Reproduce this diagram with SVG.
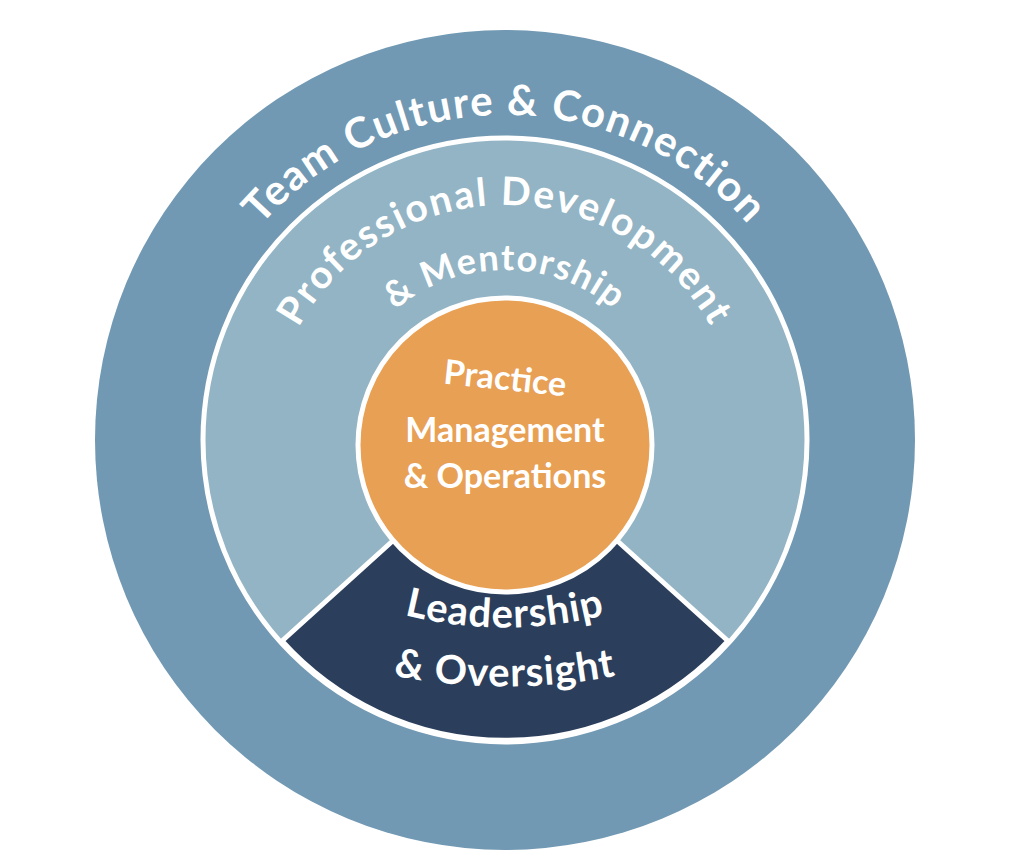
<svg xmlns="http://www.w3.org/2000/svg" width="1024" height="860" viewBox="0 0 1024 860">
<style>
.t{font-family:Lato,"Open Sans",sans-serif;font-weight:bold;fill:#fff}
</style>
<defs>
<path id="a1" d="M 180,440 A 325 325 0 0 1 830,440"/>
<path id="a2" d="M 270,440 A 235 235 0 0 1 740,440"/>
<path id="a3" d="M 335,440 A 170 170 0 0 1 675,440"/>
<path id="a4" d="M 370,605 Q 505,650 640,605"/>
<path id="a5" d="M 360,668 Q 505,705 650,668"/>
</defs>
<rect width="1024" height="860" fill="#fff"/>
<g id="outer"><circle cx="505" cy="440" r="410" fill="#7199b3"/>
<text class="t" font-size="42" letter-spacing="1.5"><textPath href="#a1" startOffset="50%" text-anchor="middle">Team Culture &amp; Connection</textPath></text></g>
<g id="middle"><circle cx="505" cy="440" r="302" fill="#93b4c4" stroke="#fff" stroke-width="5"/>
<text class="t" font-size="39" letter-spacing="2"><textPath href="#a2" startOffset="50%" text-anchor="middle">Professional Development</textPath></text>
<text class="t" font-size="36" letter-spacing="1.5"><textPath href="#a3" startOffset="50%" text-anchor="middle">&amp; Mentorship</textPath></text></g>
<g id="leadership"><path d="M 728,641 A 300 300 0 0 1 282,641 L 397,537 A 145 145 0 0 0 613,537 Z" fill="#2b3f5c" stroke="#fff" stroke-width="5" stroke-linejoin="round"/>
<text class="t" font-size="40" letter-spacing="1"><textPath href="#a4" startOffset="50%" text-anchor="middle">Leadership</textPath></text>
<text class="t" font-size="40" letter-spacing="1"><textPath href="#a5" startOffset="50%" text-anchor="middle">&amp; Oversight</textPath></text></g>
<g id="core"><circle cx="505" cy="445" r="147" fill="#e8a055" stroke="#fff" stroke-width="5"/>
<text class="t" font-size="34" text-anchor="middle" x="505" y="390" transform="rotate(6 505 380)">Practice</text>
<text class="t" font-size="34" text-anchor="middle" x="505" y="442">Management</text>
<text class="t" font-size="34" text-anchor="middle" x="505" y="488">&amp; Operations</text></g>
</svg>
